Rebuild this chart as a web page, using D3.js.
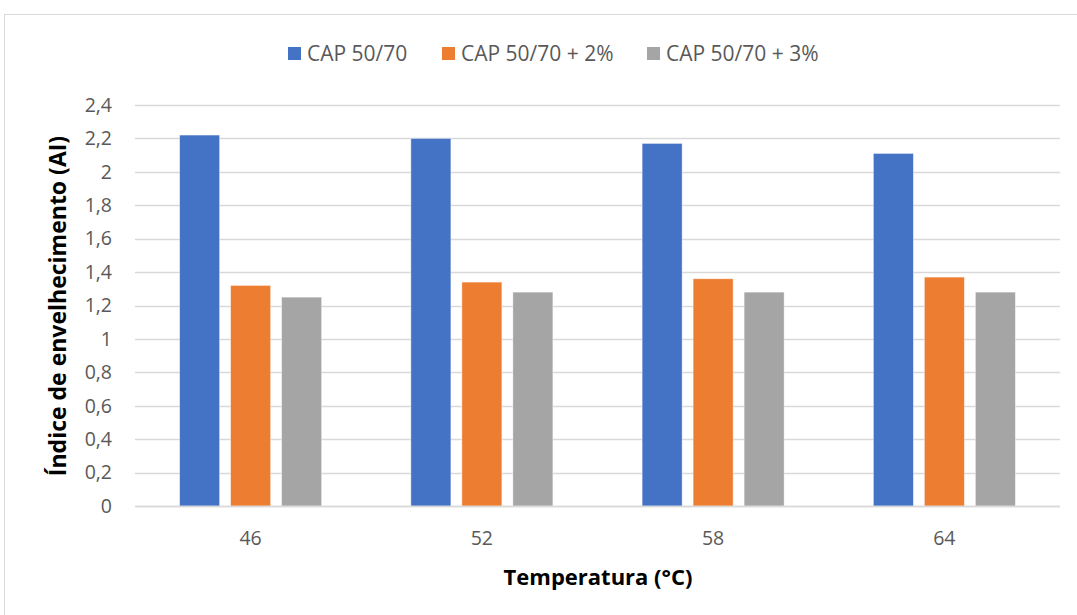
<!DOCTYPE html>
<html>
<head>
<meta charset="utf-8">
<script src="https://cdn.jsdelivr.net/npm/d3@7"></script>
<style>
  html, body { margin: 0; padding: 0; background: #fff; }
  svg { display: block; }
  text { font-family: "Open Sans", "Noto Sans", sans-serif; }
</style>
</head>
<body>
<svg id="chart" width="1077" height="615"></svg>
<script>
// Aging index (AI) of CAP 50/70 binder by test temperature
const temperatures = ["46", "52", "58", "64"];
const seriesNames = ["CAP 50/70", "CAP 50/70 + 2%", "CAP 50/70 + 3%"];
const cap5070 = [2.22, 2.20, 2.17, 2.11];
const cap5070plus2 = [1.32, 1.34, 1.36, 1.37];
const cap5070plus3 = [1.25, 1.28, 1.28, 1.28];
const seriesColors = ["#4472C4", "#ED7D31", "#A5A5A5"];
const yTicks = [0, 0.2, 0.4, 0.6, 0.8, 1, 1.2, 1.4, 1.6, 1.8, 2, 2.2, 2.4];

const seriesValues = [cap5070, cap5070plus2, cap5070plus3];

const svg = d3.select("#chart");
const W = 1077, H = 615;
const plot = { left: 135, right: 1060, top: 105, bottom: 506 };

// chart frame
svg.append("rect")
  .attr("x", 4.5).attr("y", 14.5)
  .attr("width", W + 10).attr("height", H + 10)
  .attr("fill", "#fff").attr("stroke", "#d9d9d9").attr("stroke-width", 1);

const x = d3.scaleBand()
  .domain(temperatures)
  .range([plot.left, plot.right])
  .paddingInner(0).paddingOuter(0);

const y = d3.scaleLinear().domain([0, 2.4]).range([plot.bottom, plot.top]);

// inner band for the three bars of a group
const groupFrac = 142 / 231.25;
const x1 = d3.scaleBand()
  .domain(d3.range(seriesNames.length))
  .range([0, x.bandwidth() * groupFrac])
  .paddingInner(11 / 51);

// gridlines
svg.append("g")
  .selectAll("line")
  .data(yTicks)
  .join("line")
  .attr("x1", plot.left).attr("x2", plot.right)
  .attr("y1", d => Math.round(y(d)) + 0.5)
  .attr("y2", d => Math.round(y(d)) + 0.5)
  .attr("stroke", "#d9d9d9").attr("stroke-width", 1.3);

// y tick labels
const fmt = d => String(+d.toFixed(1)).replace(".", ",");
const yAxis = d3.axisLeft(y).tickValues(yTicks).tickFormat(fmt).tickSize(0).tickPadding(0);
const yg = svg.append("g").attr("transform", `translate(${plot.left - 23},0)`).call(yAxis);
yg.select(".domain").remove();
yg.selectAll("text")
  .attr("fill", "#595959").attr("font-size", 19.5)
  .attr("font-family", "'Open Sans', sans-serif");

// bars
const groups = svg.append("g")
  .selectAll("g")
  .data(temperatures)
  .join("g")
  .attr("transform", d => `translate(${x(d) + x.bandwidth() * (1 - groupFrac) / 2},0)`);

groups.selectAll("rect")
  .data((d, i) => seriesValues.map((vals, s) => ({ s, v: vals[i] })))
  .join("rect")
  .attr("x", d => x1(d.s))
  .attr("width", x1.bandwidth())
  .attr("y", d => y(d.v))
  .attr("height", d => y(0) - y(d.v))
  .attr("fill", d => seriesColors[d.s])
  .attr("stroke", "#ffffff").attr("stroke-opacity", 0.5).attr("stroke-width", 0.8);

// x axis line
svg.append("line")
  .attr("x1", plot.left).attr("x2", plot.right)
  .attr("y1", Math.round(y(0)) + 0.5).attr("y2", Math.round(y(0)) + 0.5)
  .attr("stroke", "#d9d9d9").attr("stroke-width", 1.3);

// x tick labels
const xAxis = d3.axisBottom(x).tickSize(0).tickPadding(0);
const xg = svg.append("g").attr("transform", `translate(0,${plot.bottom + 39})`).call(xAxis);
xg.select(".domain").remove();
xg.selectAll("text")
  .attr("dy", 0)
  .attr("fill", "#595959").attr("font-size", 19.5)
  .attr("font-family", "'Open Sans', sans-serif");

// axis titles
svg.append("text")
  .attr("x", 598)
  .attr("y", 585)
  .attr("text-anchor", "middle")
  .attr("font-size", 22).attr("font-weight", "bold").attr("fill", "#000")
  .text("Temperatura (°C)");

svg.append("text")
  .attr("transform", "translate(66,306) rotate(-90)")
  .attr("text-anchor", "middle")
  .attr("font-size", 23).attr("font-weight", "bold").attr("fill", "#000")
  .text("Índice de envelhecimento (AI)");

// legend
const legendX = [288, 442, 647];
const legend = svg.append("g")
  .selectAll("g")
  .data(seriesNames)
  .join("g")
  .attr("transform", (d, i) => `translate(${legendX[i]},0)`);
legend.append("rect")
  .attr("x", 0).attr("y", 47).attr("width", 13).attr("height", 13)
  .attr("fill", (d, i) => seriesColors[i]);
legend.append("text")
  .attr("x", 19).attr("y", 61)
  .attr("font-size", 21).attr("fill", "#595959")
  .text(d => d);
</script>
</body>
</html>
